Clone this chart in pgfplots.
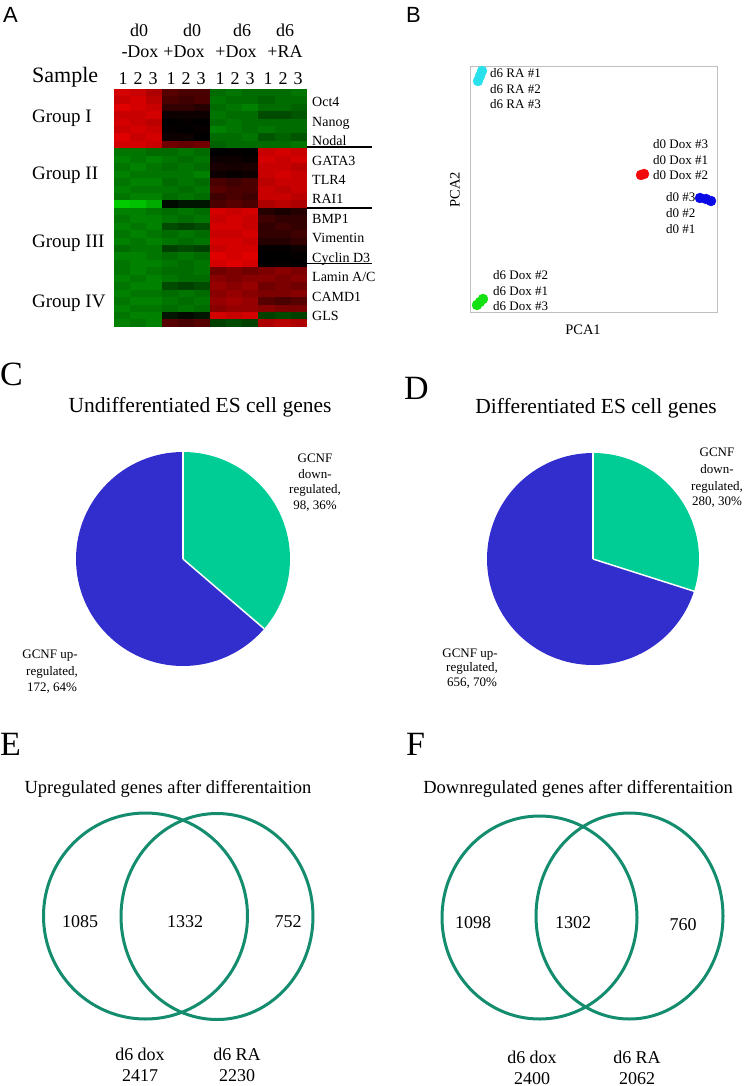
\documentclass[border=0pt]{standalone}
\usepackage{pgfplots}
\pgfplotsset{compat=1.18}
\usepackage{pgfplotstable}
\usepackage{fontspec}
\setmainfont{Liberation Serif}
\newfontfamily\sansf{Liberation Sans}
\definecolor{pgreen}{RGB}{0,205,150}
\definecolor{pblue}{RGB}{50,45,205}
\definecolor{vgreen}{RGB}{20,140,110}
\definecolor{pcyan}{RGB}{40,225,235}
\definecolor{pred}{RGB}{240,10,10}
\definecolor{pdblue}{RGB}{10,10,230}
\definecolor{plgreen}{RGB}{20,225,20}
\pgfdeclareplotmark{cell}{\pgfpathrectangle{\pgfpoint{-8.3bp}{-3.85bp}}{\pgfpoint{16.6bp}{7.7bp}}\pgfusepathqfill}
\newcommand\T[5]{\node[inner sep=0pt, anchor=#1, font=\fontsize{#2bp}{#2bp}\selectfont] at (axis cs:#3,#4) {#5};}
% pie data
\pgfmathsetmacro{\angC}{90-360*(98/(98+172))}
\pgfmathsetmacro{\angD}{90-360*(280/(280+656))}
\pgfplotstableread{
r c1 c2 c3 c4 c5 c6 c7 c8 c9 c10 c11 c12
0 .85 .8 .7 .35 .3 .3 -.5 -.55 -.5 -.5 -.5 -.55
1 .8 .85 .75 .3 .25 .3 -.55 -.5 -.5 -.45 -.5 -.5
2 .9 .85 .8 .2 .2 .15 -.5 -.55 -.6 -.5 -.5 -.45
3 .8 .8 .85 .05 .05 .05 -.55 -.5 -.5 -.35 -.35 -.4
4 .85 .8 .75 0 .02 0 -.5 -.55 -.5 -.5 -.5 -.5
5 .8 .85 .8 .02 0 .03 -.6 -.55 -.5 -.55 -.5 -.5
6 .9 .8 .85 .05 .05 0 -.5 -.5 -.55 -.4 -.45 -.4
7 .85 .85 .8 .45 .4 .45 -.45 -.5 -.5 -.5 -.5 -.55
8 -.55 -.55 -.5 -.5 -.55 -.5 0 .02 0 .8 .85 .8
9 -.6 -.55 -.6 -.55 -.5 -.55 .05 .05 .03 .85 .8 .85
10 -.55 -.6 -.55 -.5 -.55 -.5 .1 .08 .1 .8 .8 .75
11 -.6 -.55 -.55 -.55 -.55 -.6 .05 .03 .05 .8 .85 .8
12 -.55 -.6 -.6 -.5 -.55 -.5 .3 .25 .3 .75 .8 .8
13 -.6 -.55 -.55 -.55 -.5 -.55 .35 .3 .3 .8 .75 .8
14 -.55 -.6 -.6 -.5 -.55 -.5 .25 .3 .25 .8 .8 .75
15 -.95 -.9 -.8 -.05 -.1 -.1 .3 .35 .3 .7 .75 .7
16 -.6 -.6 -.55 -.5 -.55 -.5 .85 .8 .85 .15 .1 .15
17 -.55 -.6 -.6 -.55 -.5 -.55 .8 .85 .8 .25 .2 .2
18 -.6 -.55 -.6 -.35 -.3 -.35 .85 .85 .8 .2 .25 .2
19 -.55 -.6 -.55 -.5 -.55 -.5 .8 .8 .85 .2 .2 .25
20 -.6 -.55 -.6 -.55 -.5 -.55 .85 .85 .8 .15 .15 .2
21 -.5 -.55 -.55 -.3 -.35 -.3 .8 .85 .85 .02 .02 .05
22 -.6 -.6 -.55 -.5 -.55 -.5 .9 .85 .9 0 0 .02
23 -.55 -.6 -.6 -.55 -.5 -.55 .85 .9 .85 0 .02 0
24 -.55 -.6 -.55 -.5 -.5 -.55 .45 .5 .45 .5 .55 .5
25 -.6 -.55 -.6 -.55 -.5 -.5 .55 .5 .55 .55 .5 .55
26 -.55 -.6 -.6 -.35 -.3 -.35 .6 .55 .6 .45 .5 .45
27 -.6 -.55 -.55 -.5 -.55 -.5 .55 .6 .55 .5 .5 .55
28 -.55 -.6 -.6 -.55 -.5 -.55 .6 .65 .6 .35 .3 .35
29 -.6 -.55 -.55 -.5 -.55 -.5 .55 .6 .6 .55 .5 .5
30 -.55 -.6 -.6 -.1 -.05 -.1 .85 .8 .85 -.3 -.35 -.3
31 -.6 -.55 -.6 .35 .3 .35 -.3 -.35 -.3 .7 .75 .7
}\heat
\begin{document}
\begin{tikzpicture}
\path[use as bounding box] (0,0) rectangle (745bp,1086bp);
% ---------- overlay axis in pixel coordinates ----------
\begin{axis}[at={(0,0)}, anchor=south west, scale only axis, width=745bp, height=1086bp,
  xmin=0, xmax=745, ymin=0, ymax=1086, y dir=reverse, hide axis, clip=false]
% panel letters
\node[inner sep=0pt, anchor=base west, font=\sansf\fontsize{22bp}{22bp}\selectfont] at (axis cs:3,23) {A};
\node[inner sep=0pt, anchor=base west, font=\sansf\fontsize{22bp}{22bp}\selectfont] at (axis cs:406,23) {B};
\T{base west}{34}{0}{385}{C}
\T{base west}{34}{404}{399}{D}
\T{base west}{34}{0}{755}{E}
\T{base west}{34}{406}{755}{F}
% ---------- panel A texts ----------
\T{base}{18}{139}{36.7}{d0}
\T{base}{18}{192}{36.7}{d0}
\T{base}{18}{242}{36.7}{d6}
\T{base}{18}{285}{36.7}{d6}
\T{base}{18}{140}{58}{-Dox}
\T{base}{18}{184}{58}{+Dox}
\T{base}{18}{236}{58}{+Dox}
\T{base}{18}{285}{58}{+RA}
\T{base west}{22}{32}{83}{Sample}
\T{base}{18}{123}{85}{1}\T{base}{18}{138}{85}{2}\T{base}{18}{153}{85}{3}
\T{base}{18}{171}{85}{1}\T{base}{18}{186}{85}{2}\T{base}{18}{201}{85}{3}
\T{base}{18}{220}{85}{1}\T{base}{18}{235}{85}{2}\T{base}{18}{250}{85}{3}
\T{base}{18}{268}{85}{1}\T{base}{18}{283}{85}{2}\T{base}{18}{298}{85}{3}
\T{base west}{19}{32}{123}{Group I}
\T{base west}{19}{32}{180}{Group II}
\T{base west}{19}{32}{247}{Group III}
\T{base west}{19}{32}{307}{Group IV}
\T{base west}{14}{312}{107}{Oct4}
\T{base west}{14}{312}{126.4}{Nanog}
\T{base west}{14}{312}{145.8}{Nodal}
\T{base west}{14}{312}{165.2}{GATA3}
\T{base west}{14}{312}{184.6}{TLR4}
\T{base west}{14}{312}{204}{RAI1}
\T{base west}{14}{312}{223.4}{BMP1}
\T{base west}{14}{312}{242.8}{Vimentin}
\T{base west}{14}{312}{262.2}{Cyclin D3}
\T{base west}{14}{312}{281.6}{Lamin A/C}
\T{base west}{14}{312}{301}{CAMD1}
\T{base west}{14}{312}{320.4}{GLS}
\draw[line width=1.3bp] (axis cs:307,147) -- (axis cs:372,147);
\draw[line width=1.3bp] (axis cs:307,208) -- (axis cs:372,208);
\draw[line width=1.3bp] (axis cs:307,263.5) -- (axis cs:372,263.5);
% ---------- panel B texts ----------
\T{base west}{13}{490}{78}{d6 RA \#1}
\T{base west}{13}{490}{94}{d6 RA \#2}
\T{base west}{13}{490}{109}{d6 RA \#3}
\T{base west}{13}{653}{149}{d0 Dox \#3}
\T{base west}{13}{653}{165}{d0 Dox \#1}
\T{base west}{13}{653}{180}{d0 Dox \#2}
\T{base west}{13}{666}{202}{d0 \#3}
\T{base west}{13}{666}{217}{d0 \#2}
\T{base west}{13}{666}{233}{d0 \#1}
\T{base west}{13}{493}{279}{d6 Dox \#2}
\T{base west}{13}{493}{295}{d6 Dox \#1}
\T{base west}{13}{493}{310}{d6 Dox \#3}
\node[inner sep=0pt, rotate=90, font=\fontsize{14.5bp}{14.5bp}\selectfont] at (axis cs:455,190) {PCA2};
\T{base}{14.5}{583}{334}{PCA1}
% ---------- panel C ----------
\T{base}{21.5}{200}{412}{Undifferentiated ES cell genes}
\fill[pblue] (axis cs:183,559) -- ++(90:107bp) arc[start angle=90, end angle=\angC+360, radius=107bp] -- cycle;
\fill[pgreen] (axis cs:183,559) -- ++(90:107bp) arc[start angle=90, end angle=\angC, radius=107bp] -- cycle;
\draw[white, line width=1.5bp] (axis cs:183,559) -- ++(90:107bp);
\draw[white, line width=1.5bp] (axis cs:183,559) -- ++(\angC:107bp);
\T{base}{13}{315}{462}{GCNF}
\T{base}{13}{315}{478}{down-}
\T{base}{13}{315}{493}{regulated,}
\T{base}{13}{315}{509}{98, 36\%}
\T{base}{13}{50}{658}{GCNF up-}
\T{base}{13}{52}{675}{regulated,}
\T{base}{13}{52}{691}{172, 64\%}
% ---------- panel D ----------
\T{base}{21.5}{596}{413}{Differentiated ES cell genes}
\fill[pblue] (axis cs:593,559) -- ++(90:106bp) arc[start angle=90, end angle=\angD+360, radius=106bp] -- cycle;
\fill[pgreen] (axis cs:593,559) -- ++(90:106bp) arc[start angle=90, end angle=\angD, radius=106bp] -- cycle;
\draw[white, line width=1.5bp] (axis cs:593,559) -- ++(90:106bp);
\draw[white, line width=1.5bp] (axis cs:593,559) -- ++(\angD:106bp);
\T{base}{13}{717}{456.7}{GCNF}
\T{base}{13}{717}{473}{down-}
\T{base}{13}{717}{490}{regulated,}
\T{base}{13}{717}{505}{280, 30\%}
\T{base}{13}{470}{657}{GCNF up-}
\T{base}{13}{472}{671}{regulated,}
\T{base}{13}{472}{686}{656, 70\%}
% ---------- panel E ----------
\T{base}{18.5}{168}{793}{Upregulated genes after differentaition}
\draw[vgreen, line width=3bp] (axis cs:145.5,916) ellipse[x radius=102bp, y radius=103bp];
\draw[vgreen, line width=3bp] (axis cs:217,916.5) ellipse[x radius=96bp, y radius=103bp];
\T{base}{18}{80}{927}{1085}
\T{base}{18}{185}{927}{1332}
\T{base}{18}{288}{927}{752}
\T{base}{18}{140}{1060}{d6 dox}
\T{base}{18}{140}{1081}{2417}
\T{base}{18}{237}{1060}{d6 RA}
\T{base}{18}{237}{1081}{2230}
% ---------- panel F ----------
\T{base}{18.5}{578}{793}{Downregulated genes after differentaition}
\draw[vgreen, line width=3bp] (axis cs:539.5,917.5) ellipse[x radius=97.5bp, y radius=101.5bp];
\draw[vgreen, line width=3bp] (axis cs:629.5,916) ellipse[x radius=93.5bp, y radius=103bp];
\T{base}{18}{473}{928}{1098}
\T{base}{18}{573}{928}{1302}
\T{base}{18}{683}{930}{760}
\T{base}{18}{532}{1063}{d6 dox}
\T{base}{18}{532}{1084}{2400}
\T{base}{18}{637}{1063}{d6 RA}
\T{base}{18}{637}{1084}{2062}
\end{axis}
% ---------- heatmap ----------
\begin{axis}[at={(114bp,759bp)}, anchor=south west, scale only axis, width=193bp, height=238bp,
  xmin=-0.5, xmax=11.5, ymin=-0.5, ymax=31.5, y dir=reverse, hide axis, clip=true,
  colormap={gr}{rgb255=(0,215,0) rgb255=(0,0,0) rgb255=(250,0,0)},
  point meta min=-1, point meta max=1]
\pgfplotsinvokeforeach{1,...,12}{
  \addplot[scatter, only marks, mark=cell, point meta=explicit] table[x expr=#1-1, y=r, meta=c#1] {\heat};
}
\end{axis}
% ---------- PCA ----------
\begin{axis}[at={(470bp,774bp)}, anchor=south west, scale only axis, width=247bp, height=246bp,
  xmin=0, xmax=247, ymin=0, ymax=246, ticks=none, axis line style={draw=black!25, line width=0.8bp}, clip=false]
\addplot[only marks, mark=*, mark size=5bp, mark options={draw=pcyan, fill=pcyan}] coordinates {(12,241) (10,236) (8,231)};
\addplot[only marks, mark=*, mark size=5bp, mark options={draw=pred, fill=pred}] coordinates {(171,137) (174,138)};
\addplot[only marks, mark=*, mark size=5bp, mark options={draw=pdblue, fill=pdblue}] coordinates {(230,114) (236,113) (241,111)};
\addplot[only marks, mark=*, mark size=5bp, mark options={draw=plgreen, fill=plgreen}] coordinates {(7,7) (13,13) (10,10)};
\end{axis}
\end{tikzpicture}
\end{document}
